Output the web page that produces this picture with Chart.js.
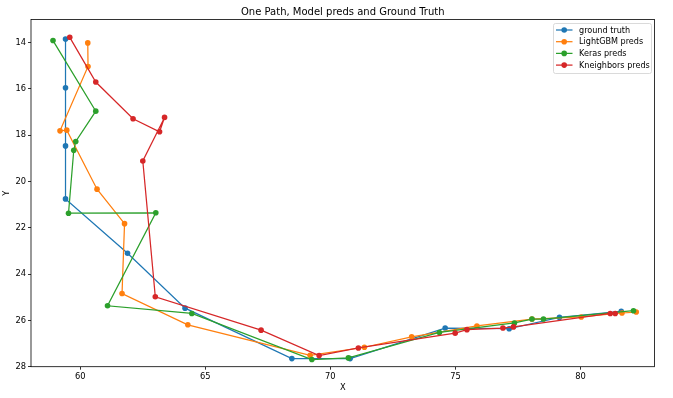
<!DOCTYPE html>
<html>
<head>
<meta charset="utf-8">
<script src="https://cdn.jsdelivr.net/npm/chart.js@4"></script>
<style>
  html, body { margin: 0; padding: 0; background: #fff; }
  #wrap { width: 673px; height: 398px; }
</style>
</head>
<body>
<div id="wrap"><canvas id="chart" width="673" height="398"></canvas></div>
<script>
const titleText = 'One Path, Model preds and Ground Truth';
const xTicks = [60, 65, 70, 75, 80];
const yTicks = [14, 16, 18, 20, 22, 24, 26, 28];
const seriesNames = ['ground truth', 'LightGBM preds', 'Keras preds', 'Kneighbors preds'];
const seriesColors = ['#1f77b4', '#ff7f0e', '#2ca02c', '#d62728'];

const truthX = [59.41, 59.41, 59.41, 59.41, 61.89, 64.19, 68.46, 70.79, 74.59, 77.15, 79.16, 81.63];
const truthY = [13.84, 15.95, 18.46, 20.75, 23.10, 25.47, 27.65, 27.65, 26.33, 26.36, 25.87, 25.61];

const lgbmX = [60.30, 60.31, 59.19, 59.46, 60.67, 61.77, 61.67, 64.30, 69.19, 71.36, 73.25, 75.86, 78.06, 80.03, 81.66, 82.23];
const lgbmY = [14.01, 15.03, 17.81, 17.78, 20.33, 21.82, 24.84, 26.19, 27.51, 27.16, 26.71, 26.24, 25.94, 25.85, 25.68, 25.64];

const kerasX = [58.91, 60.62, 59.82, 59.74, 59.53, 63.02, 61.09, 64.46, 69.26, 70.72, 74.36, 77.36, 78.06, 78.52, 82.12];
const kerasY = [13.91, 16.96, 18.27, 18.65, 21.37, 21.35, 25.37, 25.70, 27.69, 27.62, 26.52, 26.11, 25.94, 25.94, 25.58];

const knnX = [59.58, 60.62, 62.11, 63.17, 63.37, 62.50, 63.00, 67.23, 69.55, 71.12, 74.99, 75.46, 76.90, 77.32, 81.19, 81.39];
const knnY = [13.77, 15.70, 17.29, 17.85, 17.23, 19.11, 24.98, 26.42, 27.52, 27.19, 26.55, 26.40, 26.33, 26.28, 25.70, 25.70];

const FONT = 'DejaVu Sans';
const pairs = (xs, ys) => xs.map((x, i) => ({ x: x, y: ys[i] }));
const allX = [truthX, lgbmX, kerasX, knnX];
const allY = [truthY, lgbmY, kerasY, knnY];

const datasets = seriesNames.map((name, i) => ({
    label: name,
    data: pairs(allX[i], allY[i]),
    showLine: true,
    borderColor: seriesColors[i],
    backgroundColor: seriesColors[i],
    pointBackgroundColor: seriesColors[i],
    pointBorderColor: seriesColors[i],
    borderWidth: 1.25,
    pointRadius: 2.8,
    pointBorderWidth: 0,
    pointHoverRadius: 2.8,
    tension: 0,
    order: seriesNames.length - i
}));

// axes frame, title and matplotlib-like legend
const decor = {
    id: 'decor',
    afterDraw(chart) {
        const { ctx, chartArea: a } = chart;
        ctx.save();
        ctx.strokeStyle = '#000';
        ctx.lineWidth = 0.8;
        ctx.strokeRect(a.left, a.top, a.right - a.left, a.bottom - a.top);

        ctx.fillStyle = '#000';
        ctx.font = '10px "' + FONT + '"';
        ctx.textAlign = 'center';
        ctx.textBaseline = 'alphabetic';
        ctx.fillText(titleText, (a.left + a.right) / 2, 14.5);

        // legend
        const bx = 553.5, by = 23.5, bw = 98, bh = 50, r = 2;
        ctx.beginPath();
        ctx.roundRect(bx, by, bw, bh, r);
        ctx.fillStyle = 'rgba(255,255,255,0.8)';
        ctx.fill();
        ctx.strokeStyle = '#d0d0d0';
        ctx.lineWidth = 0.8;
        ctx.stroke();
        ctx.font = '8.1px "' + FONT + '"';
        ctx.textAlign = 'left';
        ctx.textBaseline = 'middle';
        seriesNames.forEach((name, i) => {
            const yy = 30 + i * 11.7;
            ctx.strokeStyle = seriesColors[i];
            ctx.lineWidth = 1.25;
            ctx.beginPath();
            ctx.moveTo(556, yy);
            ctx.lineTo(572.5, yy);
            ctx.stroke();
            ctx.fillStyle = seriesColors[i];
            ctx.beginPath();
            ctx.arc(564.2, yy, 2.8, 0, Math.PI * 2);
            ctx.fill();
            ctx.fillStyle = '#000';
            ctx.fillText(name, 579, yy + 0.5);
        });
        ctx.restore();
    }
};

const ctx = document.getElementById('chart').getContext('2d');
const chart = new Chart(ctx, {
    type: 'scatter',
    data: { datasets: datasets },
    options: {
        responsive: false,
        animation: false,
        events: [],
        layout: { padding: { left: 0, right: 18.5, top: 19.5, bottom: 0 } },
        plugins: { legend: { display: false }, title: { display: false }, tooltip: { enabled: false } },
        scales: {
            x: {
                type: 'linear',
                min: 58.03,
                max: 82.96,
                afterFit: s => { s.height = 31.3; },
                afterBuildTicks: s => { s.ticks = xTicks.map(v => ({ value: v })); },
                border: { display: false },
                grid: { display: true, drawOnChartArea: false, drawTicks: true, tickLength: 3, color: '#000', lineWidth: 0.8 },
                ticks: { color: '#000', padding: 2, font: { family: FONT, size: 8.3 }, maxRotation: 0, autoSkip: false },
                title: { display: true, text: 'X', color: '#000', font: { family: FONT, size: 8.3 }, padding: { top: 0, bottom: 5 } }
            },
            y: {
                type: 'linear',
                reverse: true,
                min: 13,
                max: 28,
                afterFit: s => { s.width = 31; },
                afterBuildTicks: s => { s.ticks = yTicks.map(v => ({ value: v })); },
                border: { display: false },
                grid: { display: true, drawOnChartArea: false, drawTicks: true, tickLength: 3, color: '#000', lineWidth: 0.8 },
                ticks: { color: '#000', padding: 2, font: { family: FONT, size: 8.3 }, autoSkip: false },
                title: { display: true, text: 'Y', color: '#000', font: { family: FONT, size: 8.3 }, padding: { top: 2, bottom: 0 } }
            }
        }
    },
    plugins: [decor]
});
</script>
</body>
</html>
